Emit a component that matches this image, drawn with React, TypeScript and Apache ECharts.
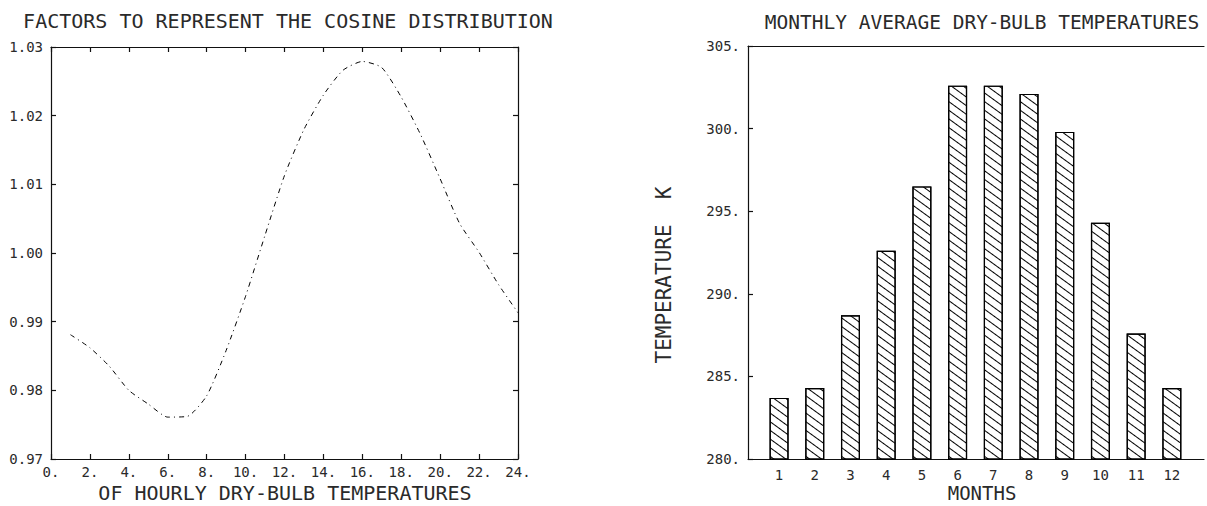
import React, { useEffect, useRef } from "react";
import * as echarts from "echarts";

// ---- data ----
const hours = [1, 2, 3, 4, 5, 6, 7, 8, 9, 10, 11, 12, 13, 14, 15, 16, 17, 18, 19, 20, 21, 22, 23, 24];
const cosineFactors = [
  0.9881, 0.9862, 0.9835, 0.9800, 0.9780, 0.9761, 0.9762, 0.9792, 0.9858, 0.9937, 1.0026, 1.0113,
  1.0180, 1.0230, 1.0266, 1.0279, 1.0270, 1.0227, 1.0172, 1.0108, 1.0043, 1.0001, 0.9954, 0.9913,
];
const months = [1, 2, 3, 4, 5, 6, 7, 8, 9, 10, 11, 12];
const monthlyTemps = [283.7, 284.3, 288.7, 292.6, 296.5, 302.6, 302.6, 302.1, 299.8, 294.3, 287.6, 284.3];

const leftTitle = "FACTORS TO REPRESENT THE COSINE DISTRIBUTION";
const leftXName = "OF HOURLY DRY-BULB TEMPERATURES";
const rightTitle = "MONTHLY AVERAGE DRY-BULB TEMPERATURES";
const rightXName = "MONTHS";
const rightYName = "TEMPERATURE  K";

const FONT = "DejaVu Sans Mono";
const INK = "#2a2a2a";

export default function App() {
  const ref = useRef<HTMLDivElement>(null);
  useEffect(() => {
    if (!ref.current) return;
    const chart = echarts.init(ref.current, undefined, { renderer: "svg" });
    const mkLine = () => ({ show: true, onZero: false, lineStyle: { color: "#111", width: 1.2 } });
    const mkTick = () => ({ show: true, inside: true, length: 5, lineStyle: { color: "#111", width: 1.2 } });
    const labelStyle = { color: INK, fontFamily: FONT, fontSize: 14 };
    const option: any = {
      animation: false,
      backgroundColor: "#fff",
      grid: [
        { left: 51, right: 1207 - 518, top: 47, bottom: 506 - 459, containLabel: false },
        { left: 748, right: -12, top: 46, bottom: 506 - 459, containLabel: false },
      ],
      xAxis: [
        {
          gridIndex: 0, type: "value", position: "bottom", min: 0, max: 24, interval: 2,
          axisLine: mkLine(), axisTick: mkTick(), splitLine: { show: false },
          axisLabel: { ...labelStyle, margin: 6, formatter: (v: number) => v + "." },
        },
        {
          gridIndex: 0, type: "value", position: "top", min: 0, max: 24, interval: 2,
          axisLine: mkLine(), axisTick: mkTick(), splitLine: { show: false }, axisLabel: { show: false },
        },
        {
          gridIndex: 1, type: "value", position: "bottom", min: 0.13, max: 12.9,
          minInterval: 1, maxInterval: 1,
          axisLine: mkLine(), axisTick: { show: false }, splitLine: { show: false },
          axisLabel: {
            ...labelStyle, margin: 9,
            formatter: (v: number) => (Math.abs(v - Math.round(v)) < 1e-6 ? String(Math.round(v)) : ""),
          },
        },
        {
          gridIndex: 1, type: "value", position: "top", min: 0.13, max: 12.9,
          axisLine: mkLine(), axisTick: { show: false }, splitLine: { show: false }, axisLabel: { show: false },
        },
      ],
      yAxis: [
        {
          gridIndex: 0, type: "value", position: "left", min: 0.97, max: 1.03, interval: 0.01,
          axisLine: mkLine(), axisTick: mkTick(), splitLine: { show: false },
          axisLabel: { ...labelStyle, margin: 8, formatter: (v: number) => v.toFixed(2) },
        },
        {
          gridIndex: 0, type: "value", position: "right", min: 0.97, max: 1.03, interval: 0.01,
          axisLine: mkLine(), axisTick: mkTick(), splitLine: { show: false }, axisLabel: { show: false },
        },
        {
          gridIndex: 1, type: "value", position: "left", min: 280, max: 305, interval: 5,
          axisLine: mkLine(), axisTick: mkTick(), splitLine: { show: false },
          axisLabel: { ...labelStyle, margin: 8, formatter: (v: number) => v + "." },
        },
      ],
      series: [
        {
          type: "line",
          xAxisIndex: 0,
          yAxisIndex: 0,
          data: hours.map((h, i) => [h, cosineFactors[i]]),
          showSymbol: false,
          smooth: 0.2,
          lineStyle: { color: "#000", width: 1, type: [5, 4, 1, 4] },
        },
        {
          type: "bar",
          xAxisIndex: 2,
          yAxisIndex: 2,
          data: months.map((m, i) => [m, monthlyTemps[i]]),
          barWidth: 19,
          itemStyle: {
            color: "#fff",
            borderColor: "#000",
            borderWidth: 1.2,
            decal: {
              symbol: "rect",
              symbolSize: 1,
              color: "#000",
              backgroundColor: "#fff",
              dashArrayX: [1, 0],
              dashArrayY: [1, 6],
              rotation: Math.PI / 5,
            },
          },
        },
      ],
      graphic: [
        {
          type: "text", x: 288, y: 21,
          style: { text: leftTitle, font: `20px "${FONT}"`, fill: INK, align: "center", verticalAlign: "middle" },
        },
        {
          type: "text", x: 285, y: 493,
          style: { text: leftXName, font: `20px "${FONT}"`, fill: INK, align: "center", verticalAlign: "middle" },
        },
        {
          type: "text", x: 982, y: 22,
          style: { text: rightTitle, font: `19.5px "${FONT}"`, fill: INK, align: "center", verticalAlign: "middle" },
        },
        {
          type: "text", x: 982, y: 493,
          style: { text: rightXName, font: `19px "${FONT}"`, fill: INK, align: "center", verticalAlign: "middle" },
        },
        {
          type: "text", x: 664, y: 275, rotation: Math.PI / 2,
          style: { text: rightYName, font: `21px "${FONT}"`, fill: INK, align: "center", verticalAlign: "middle" },
        },
      ],
    };
    chart.setOption(option);
    return () => chart.dispose();
  }, []);
  return (
    <div
      ref={ref}
      style={{ position: "fixed", left: 0, top: 0, width: 1207, height: 506, background: "#fff" }}
    />
  );
}
